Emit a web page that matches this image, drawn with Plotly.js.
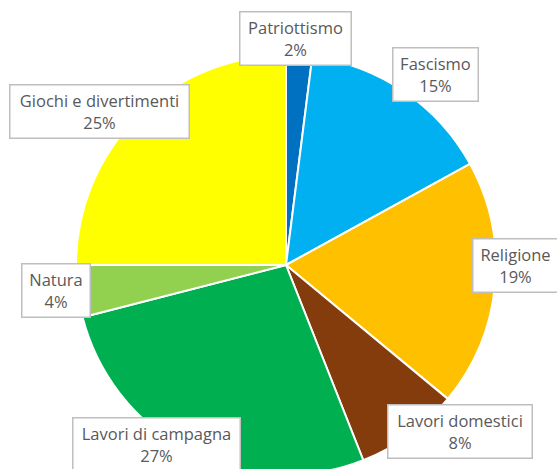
<!DOCTYPE html>
<html>
<head>
<meta charset="utf-8">
<script src="https://cdn.plot.ly/plotly-3.0.1.min.js"></script>
<style>html,body{margin:0;padding:0;overflow:hidden;background:#fff}</style>
</head>
<body>
<div id="chart" style="width:557px;height:481px"></div>
<script>
const categories = ["Patriottismo", "Fascismo", "Religione", "Lavori domestici", "Lavori di campagna", "Natura", "Giochi e divertimenti"];
const values = [2, 15, 19, 8, 27, 4, 25];
const colors = ["#0070C0", "#00B0F0", "#FFC000", "#843C0C", "#00B050", "#92D050", "#FFFF00"];

// label box centers and sizes in pixels (layout only)
const labelBoxes = [
  {cx: 295, cy: 38, w: 110, h: 52},
  {cx: 435, cy: 74, w: 84, h: 52},
  {cx: 515, cy: 265, w: 84, h: 52},
  {cx: 460, cy: 431, w: 143, h: 52},
  {cx: 156, cy: 444, w: 166, h: 52},
  {cx: 56, cy: 290, w: 67, h: 52},
  {cx: 99, cy: 111, w: 178, h: 52}
];

const W = 557, H = 481;
const total = values.reduce((a, b) => a + b, 0);

const annotations = categories.map((c, i) => ({
  xref: 'paper', yref: 'paper',
  x: labelBoxes[i].cx / W, y: 1 - labelBoxes[i].cy / H,
  xanchor: 'center', yanchor: 'middle',
  text: c + '<br>' + Math.round(values[i] / total * 100) + '%',
  showarrow: false,
  width: labelBoxes[i].w, height: labelBoxes[i].h,
  bgcolor: '#ffffff', bordercolor: '#bfbfbf', borderwidth: 1.5, borderpad: 0,
  align: 'center', valign: 'middle',
  font: {family: 'Open Sans, sans-serif', size: 16.5, color: '#595959'}
}));

const data = [{
  type: 'pie',
  labels: categories,
  values: values,
  sort: false,
  direction: 'clockwise',
  rotation: 0,
  textinfo: 'none',
  hoverinfo: 'label+percent',
  marker: {colors: colors, line: {color: '#ffffff', width: 2}},
  domain: {x: [76 / W, 496 / W], y: [1 - 475 / H, 1 - 55 / H]},
  showlegend: false
}];

const layout = {
  width: W, height: H,
  margin: {l: 0, r: 0, t: 0, b: 0},
  paper_bgcolor: '#ffffff',
  showlegend: false,
  annotations: annotations
};

Plotly.newPlot('chart', data, layout, {displayModeBar: false, staticPlot: true});
</script>
</body>
</html>
